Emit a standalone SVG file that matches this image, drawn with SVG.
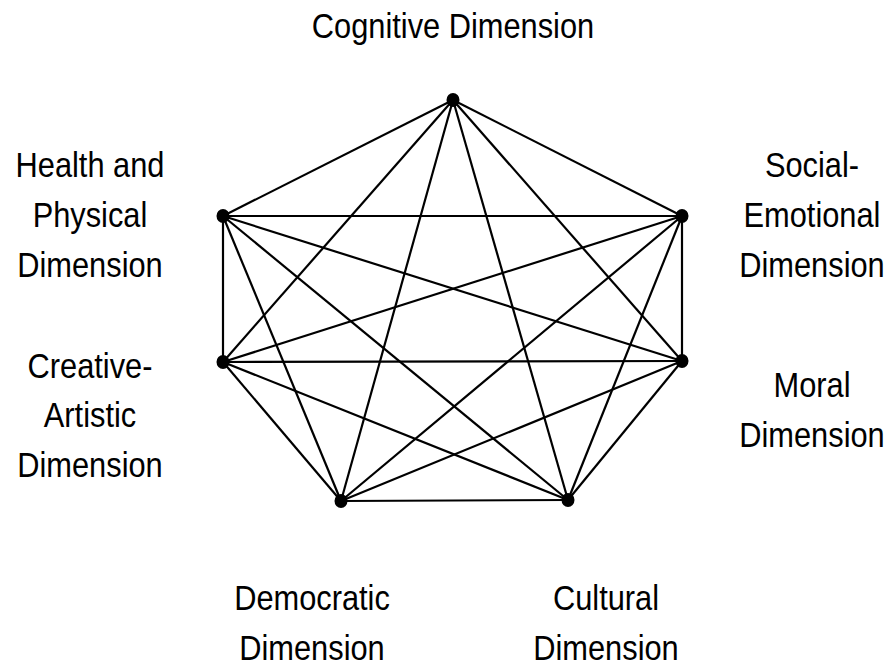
<svg xmlns="http://www.w3.org/2000/svg" width="888" height="666" viewBox="0 0 888 666">
<style>
.e{stroke:#000;stroke-width:2.2;fill:none}
.d{fill:#000}
.t{font-family:"Liberation Sans",Arial,sans-serif;font-size:35px;fill:#000;text-anchor:middle}
</style>
<rect width="888" height="666" fill="#fff"/>
<g id="connectors" class="e">
<line x1="453" y1="100" x2="223" y2="216"/>
<line x1="453" y1="100" x2="682" y2="216"/>
<line x1="453" y1="100" x2="223" y2="362"/>
<line x1="453" y1="100" x2="682" y2="361"/>
<line x1="453" y1="100" x2="341" y2="501"/>
<line x1="453" y1="100" x2="568" y2="500"/>
<line x1="223" y1="216" x2="682" y2="216"/>
<line x1="223" y1="216" x2="223" y2="362"/>
<line x1="223" y1="216" x2="682" y2="361"/>
<line x1="223" y1="216" x2="341" y2="501"/>
<line x1="223" y1="216" x2="568" y2="500"/>
<line x1="682" y1="216" x2="223" y2="362"/>
<line x1="682" y1="216" x2="682" y2="361"/>
<line x1="682" y1="216" x2="341" y2="501"/>
<line x1="682" y1="216" x2="568" y2="500"/>
<line x1="223" y1="362" x2="682" y2="361"/>
<line x1="223" y1="362" x2="341" y2="501"/>
<line x1="223" y1="362" x2="568" y2="500"/>
<line x1="682" y1="361" x2="341" y2="501"/>
<line x1="682" y1="361" x2="568" y2="500"/>
<line x1="341" y1="501" x2="568" y2="500"/>
</g>
<g id="cognitive">
<ellipse class="d" cx="453" cy="100" rx="6.5" ry="7"/>
<g transform="translate(453,0) scale(0.88,1)"><text class="t" x="0" y="38">Cognitive Dimension</text></g>
</g>
<g id="health">
<ellipse class="d" cx="223" cy="216" rx="6.5" ry="7"/>
<g transform="translate(90,0) scale(0.88,1)"><text class="t" x="0" y="177">Health and</text><text class="t" x="0" y="227">Physical</text><text class="t" x="0" y="277">Dimension</text></g>
</g>
<g id="social">
<ellipse class="d" cx="682" cy="216" rx="6.5" ry="7"/>
<g transform="translate(812,0) scale(0.88,1)"><text class="t" x="0" y="177">Social-</text><text class="t" x="0" y="227">Emotional</text><text class="t" x="0" y="277">Dimension</text></g>
</g>
<g id="creative">
<ellipse class="d" cx="223" cy="362" rx="6.5" ry="7"/>
<g transform="translate(90,0) scale(0.88,1)"><text class="t" x="0" y="378">Creative-</text><text class="t" x="0" y="427">Artistic</text><text class="t" x="0" y="477">Dimension</text></g>
</g>
<g id="moral">
<ellipse class="d" cx="682" cy="361" rx="6.5" ry="7"/>
<g transform="translate(812,0) scale(0.88,1)"><text class="t" x="0" y="397">Moral</text><text class="t" x="0" y="447">Dimension</text></g>
</g>
<g id="democratic">
<ellipse class="d" cx="341" cy="501" rx="6.5" ry="7"/>
<g transform="translate(312,0) scale(0.88,1)"><text class="t" x="0" y="610">Democratic</text><text class="t" x="0" y="660">Dimension</text></g>
</g>
<g id="cultural">
<ellipse class="d" cx="568" cy="500" rx="6.5" ry="7"/>
<g transform="translate(606,0) scale(0.88,1)"><text class="t" x="0" y="610">Cultural</text><text class="t" x="0" y="660">Dimension</text></g>
</g>
</svg>
